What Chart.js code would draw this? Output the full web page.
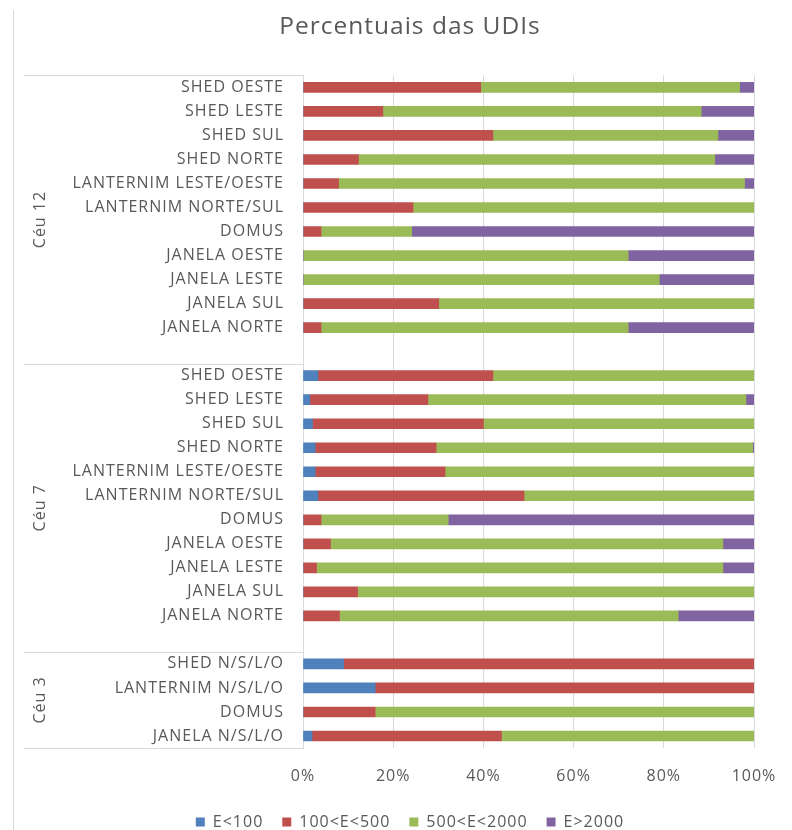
<!DOCTYPE html>
<html>
<head>
<meta charset="utf-8">
<script src="https://cdn.jsdelivr.net/npm/chart.js@4"></script>
<style>
  html, body { margin: 0; padding: 0; background: #fff; overflow: hidden; }
  #wrap { width: 792px; height: 830px; }
</style>
</head>
<body>
<div id="wrap"><canvas id="udi-chart" width="792" height="830"></canvas></div>
<script>
// Categorias de cima para baixo ('' = linha vazia entre grupos)
const categorias = [
  'SHED OESTE', 'SHED LESTE', 'SHED SUL', 'SHED NORTE', 'LANTERNIM LESTE/OESTE', 'LANTERNIM NORTE/SUL',
  'DOMUS', 'JANELA OESTE', 'JANELA LESTE', 'JANELA SUL', 'JANELA NORTE',
  '',
  'SHED OESTE', 'SHED LESTE', 'SHED SUL', 'SHED NORTE', 'LANTERNIM LESTE/OESTE', 'LANTERNIM NORTE/SUL',
  'DOMUS', 'JANELA OESTE', 'JANELA LESTE', 'JANELA SUL', 'JANELA NORTE',
  '',
  'SHED N/S/L/O', 'LANTERNIM N/S/L/O', 'DOMUS', 'JANELA N/S/L/O'
];

// Grupos do eixo (primeiro nível) e quantas categorias cada um tem
const grupos = ['Céu 12', 'Céu 7', 'Céu 3'];
const tamanhosGrupos = [11, 11, 4];

const nomesSeries = ['E<100', '100<E<500', '500<E<2000', 'E>2000'];

// Percentuais
const serieMenor100 = [
  0, 0, 0, 0, 0, 0, 0, 0, 0, 0, 0,
  null,
  3.3, 1.5, 2.1, 2.7, 2.7, 3.3, 0, 0, 0, 0, 0,
  null,
  9, 16, 0, 2
];
const serie100a500 = [
  39.4, 17.7, 42.1, 12.3, 7.9, 24.4, 4.0, 0, 0, 30.1, 4.0,
  null,
  38.8, 26.2, 37.9, 26.8, 28.8, 45.7, 4.0, 6.1, 3.0, 12.1, 8.1,
  null,
  91, 84, 16, 42
];
const serie500a2000 = [
  57.4, 70.6, 49.9, 79.0, 90.0, 75.6, 20.1, 72.1, 79.0, 69.9, 68.1,
  null,
  57.9, 70.5, 60.0, 70.2, 68.5, 51.0, 28.2, 87.0, 90.1, 87.9, 75.1,
  null,
  0, 0, 84, 56
];
const serieMaior2000 = [
  3.2, 11.7, 8.0, 8.7, 2.1, 0, 75.9, 27.9, 21.0, 0, 27.9,
  null,
  0, 1.8, 0, 0.3, 0, 0, 67.8, 6.9, 6.9, 0, 16.8,
  null,
  0, 0, 0, 0
];

const coresSeries = ['#4F81BD', '#C0504D', '#9BBB59', '#8064A2'];
const corTexto = '#595959';
const corLinha = '#D9D9D9';
const fonte = "'Open Sans', 'Noto Sans', sans-serif";

// Espaçamento de letras parecido com o do Excel
function ajustaEspaco(chart) {
  chart.ctx.letterSpacing = '1px';
}

// Plugin que desenha o segundo nível do eixo (Céu 12, Céu 7, Céu 3) e as linhas de separação
const eixoGrupos = {
  id: 'eixoGrupos',
  beforeLayout: ajustaEspaco,
  beforeDraw: ajustaEspaco,
  afterDraw(chart) {
    const ctx = chart.ctx;
    const y = chart.scales.y;
    const area = chart.chartArea;
    const passo = y.getPixelForValue(1) - y.getPixelForValue(0);

    ctx.save();
    // borda esquerda do gráfico
    ctx.strokeStyle = corLinha;
    ctx.lineWidth = 1;
    ctx.beginPath();
    ctx.moveTo(13.5, 10);
    ctx.lineTo(13.5, 830);
    ctx.stroke();

    let inicio = 0;
    const limites = [];
    tamanhosGrupos.forEach(n => {
      limites.push(y.getPixelForValue(inicio) - passo / 2);
      inicio += n + 1;
    });
    limites.push(area.bottom);

    ctx.beginPath();
    limites.forEach(l => {
      const py = Math.round(l) + 0.5;
      ctx.moveTo(24, py);
      ctx.lineTo(area.left, py);
    });
    ctx.stroke();

    ctx.fillStyle = corTexto;
    ctx.font = '16px ' + fonte;
    ctx.textAlign = 'center';
    ctx.textBaseline = 'middle';
    grupos.forEach((g, i) => {
      const meio = (limites[i] + limites[i + 1]) / 2;
      ctx.save();
      ctx.translate(40, meio);
      ctx.rotate(-Math.PI / 2);
      ctx.fillText(g, 0, 0);
      ctx.restore();
    });
    ctx.restore();
  }
};

const ctx = document.getElementById('udi-chart').getContext('2d');
new Chart(ctx, {
  type: 'bar',
  data: {
    labels: categorias,
    datasets: [serieMenor100, serie100a500, serie500a2000, serieMaior2000].map((valores, i) => ({
      label: nomesSeries[i],
      data: valores,
      backgroundColor: coresSeries[i],
      borderWidth: 0,
      barThickness: 10
    }))
  },
  options: {
    indexAxis: 'y',
    responsive: false,
    animation: false,
    layout: { padding: { left: 66, right: 38, top: 0, bottom: -10 } },
    scales: {
      x: {
        stacked: true,
        min: 0,
        max: 100,
        ticks: {
          stepSize: 20,
          padding: 19,
          color: corTexto,
          font: { family: fonte, size: 16 },
          callback: v => v + '%'
        },
        grid: { color: corLinha, drawTicks: false },
        border: { display: false },
        afterFit: scale => {
          scale.height = 47;
          scale.paddingLeft = 0;
          scale.paddingRight = 0;
        }
      },
      y: {
        stacked: true,
        ticks: {
          autoSkip: false,
          padding: 19,
          color: corTexto,
          font: { family: fonte, size: 16 }
        },
        grid: { display: false, drawTicks: false },
        border: { display: true, color: corLinha },
        afterFit: scale => { scale.width = 237; }
      }
    },
    plugins: {
      title: {
        display: true,
        text: 'Percentuais das UDIs',
        color: corTexto,
        font: { family: fonte, size: 24.5, weight: 'normal' },
        padding: { top: 12, bottom: 34 }
      },
      legend: {
        position: 'bottom',
        labels: {
          boxWidth: 9,
          boxHeight: 9,
          padding: 19,
          color: corTexto,
          font: { family: fonte, size: 16 }
        }
      },
      tooltip: { enabled: false }
    }
  },
  plugins: [eixoGrupos]
});
</script>
</body>
</html>
